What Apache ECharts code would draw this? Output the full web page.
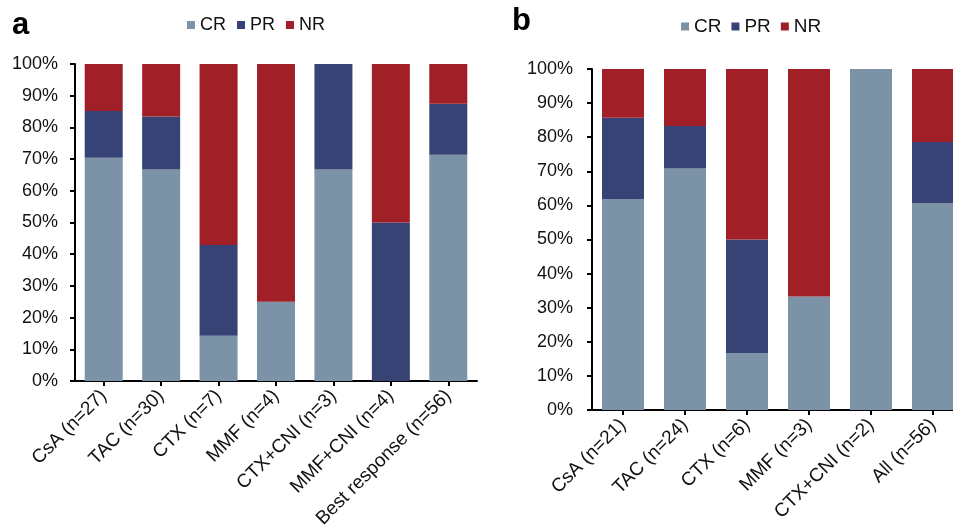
<!DOCTYPE html>
<html><head><meta charset="utf-8">
<script src="https://cdn.jsdelivr.net/npm/echarts@6/dist/echarts.min.js"></script>
<style>html,body{margin:0;padding:0;background:#fff}#c{width:953px;height:531px}</style>
</head><body><div id="c"></div>
<script>
const categoriesA = ['CsA (n=27)','TAC (n=30)','CTX (n=7)','MMF (n=4)','CTX+CNI (n=3)','MMF+CNI (n=4)','Best response (n=56)'];
const crA = [70.4, 66.7, 14.3, 25.0, 66.7, 0, 71.4];
const prA = [14.8, 16.7, 28.6, 0, 33.3, 50.0, 16.1];
const nrA = [14.8, 16.6, 57.1, 75.0, 0, 50.0, 12.5];

const categoriesB = ['CsA (n=21)','TAC (n=24)','CTX (n=6)','MMF (n=3)','CTX+CNI (n=2)','All (n=56)'];
const crB = [61.9, 70.8, 16.7, 33.3, 100, 60.7];
const prB = [23.8, 12.5, 33.3, 0, 0, 17.9];
const nrB = [14.3, 16.7, 50.0, 66.7, 0, 21.4];

const seriesNames = ['CR','PR','NR'];
const colors = ['#7b92a7','#364374','#a11f27'];
const font = 'Liberation Sans, Arial, sans-serif';

const chart = echarts.init(document.getElementById('c'));
function xAx(idx, cats, fs){
  return {type:'category', gridIndex:idx, data:cats,
    axisLine:{lineStyle:{color:'#000',width:2}},
    axisTick:{show:true, alignWithLabel:true, length:5, lineStyle:{color:'#000',width:2}},
    axisLabel:{rotate:45, color:'#111', fontSize:fs, fontFamily:font, margin:12, interval:0}};
}
function yAx(idx, fs, mg){
  return {type:'value', gridIndex:idx, min:0, max:100, interval:10,
    axisLine:{show:true, lineStyle:{color:'#000',width:2}},
    axisTick:{show:true, length:5, lineStyle:{color:'#000',width:2}},
    splitLine:{show:false},
    axisLabel:{formatter:'{value}%', color:'#111', fontSize:fs, fontFamily:font, margin:mg}};
}
function ser(name, data, idx, color, bw){
  return {name, type:'bar', stack:'s'+idx, xAxisIndex:idx, yAxisIndex:idx, data,
    barWidth:bw, itemStyle:{color}, emphasis:{disabled:true}};
}
chart.setOption({
  animation:false,
  graphic:[
    {type:'text', left:12, top:10, style:{text:'a', font:'bold 31px '+font, fill:'#000'}},
    {type:'text', left:512, top:6, style:{text:'b', font:'bold 31px '+font, fill:'#000'}}
  ],
  legend:[
    {data:seriesNames, left:182, top:11, icon:'rect', itemWidth:8, itemHeight:8, itemGap:11,
     textStyle:{fontSize:18, fontFamily:font, color:'#111'}},
    {data:seriesNames, left:676, top:12, icon:'rect', itemWidth:8, itemHeight:8, itemGap:10,
     textStyle:{fontSize:19, fontFamily:font, color:'#111'}}
  ],
  grid:[
    {left:75, top:64, right:476, bottom:150, containLabel:false, outerBoundsMode:'none'},
    {left:592, top:69, right:-11, bottom:121, containLabel:false, outerBoundsMode:'none'}
  ],
  xAxis:[xAx(0, categoriesA, 19), xAx(1, categoriesB, 19)],
  yAxis:[yAx(0, 18, 17), yAx(1, 18, 19)],
  series:[
    ser('CR', crA, 0, colors[0], 38),
    ser('PR', prA, 0, colors[1], 38),
    ser('NR', nrA, 0, colors[2], 38),
    ser('CR', crB, 1, colors[0], 42),
    ser('PR', prB, 1, colors[1], 42),
    ser('NR', nrB, 1, colors[2], 42)
  ]
});
</script></body></html>
